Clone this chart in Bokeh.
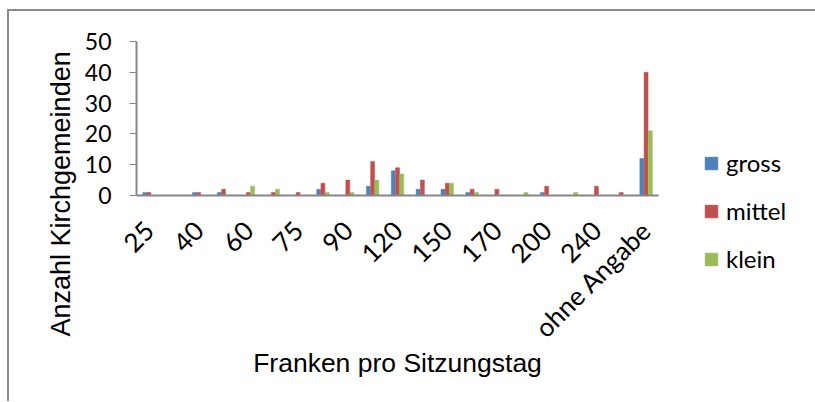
import math
from bokeh.plotting import figure
from bokeh.models import ColumnDataSource, FixedTicker, Legend, LegendItem, Title, Range1d
from bokeh.transform import dodge
from bokeh.embed import file_html
from bokeh.resources import INLINE

categories = ["25", "30", "40", "50", "60", "70", "75", "80", "90", "100", "120",
              "130", "150", "160", "170", "180", "200", "220", "240", "250", "ohne Angabe"]
gross = [1, 0, 1, 1, 0, 0, 0, 2, 0, 3, 8, 2, 2, 1, 0, 0, 1, 0, 0, 0, 12]
mittel = [1, 0, 1, 2, 1, 1, 1, 4, 5, 11, 9, 5, 4, 2, 2, 0, 3, 0, 3, 1, 40]
klein = [0, 0, 0, 0, 3, 2, 0, 1, 1, 5, 7, 0, 4, 1, 0, 1, 0, 1, 0, 0, 21]
series_names = ["gross", "mittel", "klein"]
colors = ["#4F81BD", "#C0504D", "#9BBB59"]
y_ticks = [0, 10, 20, 30, 40, 50]

idx = list(range(len(categories)))
src = ColumnDataSource(dict(x=idx, cat=categories, gross=gross, mittel=mittel, klein=klein))

p = figure(frame_width=522, frame_height=154, output_backend="svg", toolbar_location=None,
           x_range=Range1d(-0.5, len(categories) - 0.5), y_range=Range1d(0, 50),
           min_border_left=127, min_border_right=140, min_border_top=30, min_border_bottom=206)
p.styles = {"border-left": "2px solid #898989", "border-top": "2px solid #898989",
            "transform": "translate(7px, 9px)"}
p.outline_line_color = None
p.xgrid.visible = False
p.ygrid.visible = False

bw = 0.16
renderers = []
for i, (name, col) in enumerate(zip(series_names, colors)):
    r = p.vbar(x=dodge("x", (i - 1) * 0.17, range=p.x_range), top=name, width=bw, source=src,
               fill_color=col, line_color=col, line_width=0.5)
    renderers.append(r)

# axes
p.xaxis.ticker = FixedTicker(ticks=idx[::2])
p.xaxis.major_label_overrides = {i: categories[i] for i in idx[::2]}
p.xaxis.major_label_orientation = math.pi / 4
p.xaxis.major_tick_line_color = None
p.xaxis.minor_tick_line_color = None
p.xaxis.axis_line_color = "#868686"
p.xaxis.axis_line_width = 2
p.xaxis.major_label_text_font = "Lato"
p.xaxis.major_label_text_font_size = "26px"
p.xaxis.major_label_text_color = "black"
p.xaxis.major_label_standoff = 24
p.xaxis.axis_label = "Franken pro Sitzungstag"
p.xaxis.axis_label_text_font = "Liberation Sans"
p.xaxis.axis_label_text_font_size = "26.5px"
p.xaxis.axis_label_text_font_style = "normal"
p.xaxis.axis_label_text_color = "black"
p.xaxis.axis_label_standoff = -10

p.yaxis.ticker = FixedTicker(ticks=y_ticks)
p.yaxis.minor_tick_line_color = None
p.yaxis.major_tick_in = 0
p.yaxis.major_tick_out = 7
p.yaxis.major_tick_line_color = "#868686"
p.yaxis.major_tick_line_width = 1
p.yaxis.axis_line_color = "#868686"
p.yaxis.axis_line_width = 2
p.yaxis.major_label_text_font = "Lato"
p.yaxis.major_label_text_font_size = "23px"
p.yaxis.major_label_text_color = "black"
p.yaxis.major_label_standoff = 18

# y axis title, positioned like the reference (centred on chart area, not on the frame)
ytitle = Title(text="Anzahl Kirchgemeinden", align="left", offset=-141,
               text_font="Liberation Sans", text_font_size="27px", text_font_style="normal",
               text_color="black", standoff=12)
p.add_layout(ytitle, "left")

items = [LegendItem(label=n, renderers=[r]) for n, r in zip(series_names, renderers)]
legend = Legend(items=items, location=(45, -78), orientation="vertical",
                label_text_font="Lato", label_text_font_size="24px", label_text_color="black",
                glyph_width=16, glyph_height=16, label_standoff=7, spacing=19,
                padding=0, margin=0, border_line_color=None, background_fill_alpha=0)
p.add_layout(legend, "right")

open("out.html", "w").write(file_html(p, INLINE))
